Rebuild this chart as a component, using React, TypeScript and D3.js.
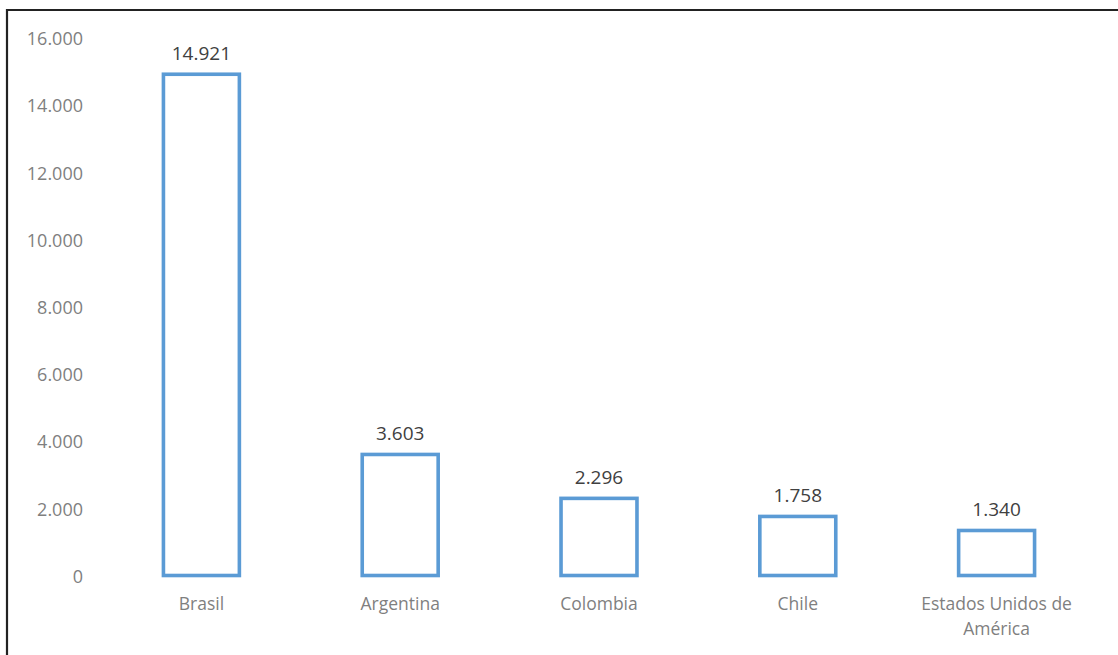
import React from "react";
import * as d3 from "d3";

const categories: string[][] = [
  ["Brasil"],
  ["Argentina"],
  ["Colombia"],
  ["Chile"],
  ["Estados Unidos de", "América"],
];
const values: number[] = [14921, 3603, 2296, 1758, 1340];
const yTicks: number[] = [0, 2000, 4000, 6000, 8000, 10000, 12000, 14000, 16000];

const W = 1118;
const H = 655;
const FONT = "'Open Sans', 'Noto Sans', sans-serif";

const fmt = (v: number) => d3.format(",")(v).replace(/,/g, ".");

export default function App() {
  const keys = categories.map((c) => c.join(" "));
  const x = d3.scalePoint<string>().domain(keys).range([102, 1096]).padding(0.5);
  const step = x.step();
  const barW = step * 0.382;
  const y = d3.scaleLinear().domain([0, 16000]).range([575.5, 38]);

  return (
    <svg
      width={W}
      height={H}
      style={{ position: "absolute", left: 0, top: 0, background: "#fff" }}
      fontFamily={FONT}
    >
      <rect x={0} y={0} width={W} height={H} fill="#fff" />
      {/* frame */}
      <line x1={6} x2={W} y1={10} y2={10} stroke="#222" strokeWidth={2.2} />
      <line x1={7} x2={7} y1={9} y2={H} stroke="#222" strokeWidth={2.2} />

      {/* y ticks */}
      {yTicks.map((t) => (
        <text
          key={t}
          x={83}
          y={y(t) + 1}
          dy="0.35em"
          textAnchor="end"
          fontSize={18}
          fill="#7f7f7f"
        >
          {fmt(t)}
        </text>
      ))}

      {/* bars */}
      {values.map((v, i) => {
        const cx = x(keys[i])!;
        return (
          <g key={keys[i]}>
            <rect
              x={cx - barW / 2}
              y={y(v)}
              width={barW}
              height={y(0) - y(v)}
              fill="#fff"
              stroke="#5B9BD5"
              strokeWidth={3.6}
            />
            <text
              x={cx}
              y={y(v) - 21}
              dy="0.35em"
              textAnchor="middle"
              fontSize={19}
              fill="#404040"
            >
              {fmt(v)}
            </text>
            {categories[i].map((line, j) => (
              <text
                key={j}
                x={cx}
                y={604 + j * 25}
                dy="0.35em"
                textAnchor="middle"
                fontSize={17.5}
                fill="#7f7f7f"
              >
                {line}
              </text>
            ))}
          </g>
        );
      })}
    </svg>
  );
}
